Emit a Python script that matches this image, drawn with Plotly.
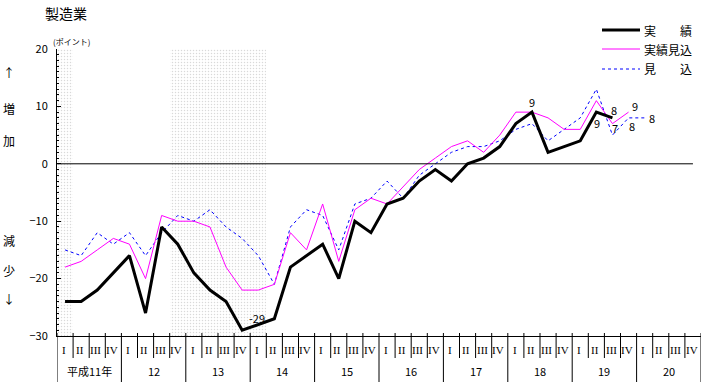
import plotly.graph_objects as go

# ---- data ----
years = ["平成11年", "12", "13", "14", "15", "16", "17", "18", "19", "20"]
quarters = ["I", "II", "III", "IV"]

actual = [-24, -24, -22, -19, -16, -26, -11, -14, -19, -22, -24, -29, -28, -27, -18, -16,
          -14, -20, -10, -12, -7, -6, -3, -1, -3, 0, 1, 3, 7, 9, 2, 3, 4, 9, 8]
estimate = [-18, -17, -15, -13, -14, -20, -9, -10, -10, -11, -18, -22, -22, -21, -12, -15,
            -7, -17, -8, -6, -7, -4, -1, 1, 3, 4, 2, 5, 9, 9, 8, 6, 6, 11, 7, 9]
forecast = [-15, -16, -12, -14, -12, -16, -12, -9, -10, -8, -11, -13, -16, -21, -11, -8,
            -9, -15, -7, -6, -3, -6, -2, 0, 2, 3, 3, 4, 6, 7, 4, 6, 8, 13, 5, 8, 8]

# recession periods (quarter index start, number of quarters)
shade_start = [0, 7]
shade_len = [1, 6]

series_names = ["実　　績", "実績見込", "見　　込"]

nq = len(years) * 4
W, H = 706, 385
x0px, x1px = 57, 701
ytop, ybot = 49, 336


def py(px):
    return (H - px) / H


JP = "Noto Sans CJK JP"

fig = go.Figure()

# shading
fig.add_trace(go.Bar(
    x=[s + l / 2 for s, l in zip(shade_start, shade_len)],
    width=shade_len,
    y=[50] * len(shade_start),
    base=[-30] * len(shade_start),
    marker=dict(color="white", line=dict(width=0),
                pattern=dict(shape=".", fgcolor="#b4b4b4", bgcolor="white", size=3, solidity=0.2)),
    hoverinfo="skip", showlegend=False))

xs = lambda arr: [i + 0.5 for i in range(len(arr))]

fig.add_trace(go.Scatter(x=xs(forecast), y=forecast, mode="lines",
                         line=dict(color="#0000FF", width=1, dash="3px,3px"), showlegend=False))
fig.add_trace(go.Scatter(x=xs(estimate), y=estimate, mode="lines",
                         line=dict(color="#FF00FF", width=1), showlegend=False))
fig.add_trace(go.Scatter(x=xs(actual), y=actual, mode="lines",
                         line=dict(color="black", width=3), showlegend=False))

shapes = []
annotations = []

# zero line
shapes.append(dict(type="line", xref="x", yref="y", x0=0, x1=nq - 0.5, y0=0, y1=0,
                   line=dict(color="black", width=1)))

# category separators
for k in range(nq + 1):
    long = (k % 4 == 0)
    shapes.append(dict(type="line", xref="x", yref="paper", x0=k, x1=k,
                       y0=py(333), y1=py(382 if long else 358),
                       line=dict(color="black", width=1)))


def ann(**kw):
    kw.setdefault("showarrow", False)
    kw.setdefault("xanchor", "center")
    kw.setdefault("yanchor", "middle")
    annotations.append(kw)


# quarter labels
for k in range(nq):
    ann(x=k + 0.42, y=py(350), xref="x", yref="paper", text=quarters[k % 4],
        font=dict(family="Liberation Serif", size=11, color="black"))
# year labels
for j, yl in enumerate(years):
    ann(x=4 * j + 2, y=py(371), xref="x", yref="paper", text=yl,
        font=dict(family=JP, size=11, color="black"))


# data labels
def lab(idx, arr, dx, dy, anchor="center"):
    ann(x=idx + 0.5, y=arr[idx], xref="x", yref="y", text=str(arr[idx]),
        xshift=dx, yshift=dy, xanchor=anchor,
        font=dict(family=JP, size=11, color="black"))


lab(11, actual, 15, 12)
lab(29, actual, 0, 10)
lab(33, actual, 1, -11)
lab(34, actual, 2, 8)
lab(34, estimate, 3, -4)
lab(35, estimate, 6, 6)
lab(35, forecast, 3, -8)
lab(36, forecast, 2, 0, "left")

# title and unit
ann(x=43 / W, y=py(13), xref="paper", yref="paper", text="製造業", xanchor="left",
    font=dict(family=JP, size=14, color="black"))
ann(x=51 / W, y=py(41), xref="paper", yref="paper", text="(ポイント)", xanchor="left",
    font=dict(family=JP, size=8, color="black"))

# side labels
for t, ypx in [("↑", 73), ("増", 108), ("加", 140), ("減", 240), ("少", 270), ("↓", 298)]:
    ann(x=9 / W, y=py(ypx), xref="paper", yref="paper", text=t,
        font=dict(family=JP, size=12, color="black"))

# custom legend
leg = [("black", 3, "solid", 30), ("#FF00FF", 1, "solid", 49), ("#0000FF", 1, "3px,3px", 69)]
for (c, w, d, ypx), name in zip(leg, series_names):
    shapes.append(dict(type="line", xref="paper", yref="paper", x0=602 / W, x1=640 / W,
                       y0=py(ypx), y1=py(ypx), line=dict(color=c, width=w, dash=d)))
    ann(x=642 / W, y=py(ypx), xref="paper", yref="paper", text=name, xanchor="left",
        font=dict(family=JP, size=12, color="black"))

fig.update_layout(
    width=W, height=H, margin=dict(l=0, r=0, t=0, b=0, pad=0, autoexpand=False),
    paper_bgcolor="white", plot_bgcolor="white",
    shapes=shapes, annotations=annotations, bargap=0,
    xaxis=dict(domain=[x0px / W, x1px / W], range=[0, nq], showgrid=False, zeroline=False,
               showticklabels=False, ticks="", showline=True, linecolor="black", linewidth=1,
               automargin=False, fixedrange=True),
    yaxis=dict(domain=[py(ybot), py(ytop)], range=[-30, 20], showgrid=False, zeroline=False,
               dtick=10, tick0=0, ticks="inside", ticklen=4, tickcolor="black",
               showline=True, linecolor="black", linewidth=1,
               minor=dict(dtick=1, ticks="inside", ticklen=2, tickcolor="black"),
               tickfont=dict(family=JP, size=11, color="black"), ticklabelstandoff=6,
               automargin=False, fixedrange=True),
    showlegend=False,
)

fig.write_html("out.html", config={"displayModeBar": False},
               post_script="document.body.style.margin='0px';document.body.style.overflow='hidden';")
